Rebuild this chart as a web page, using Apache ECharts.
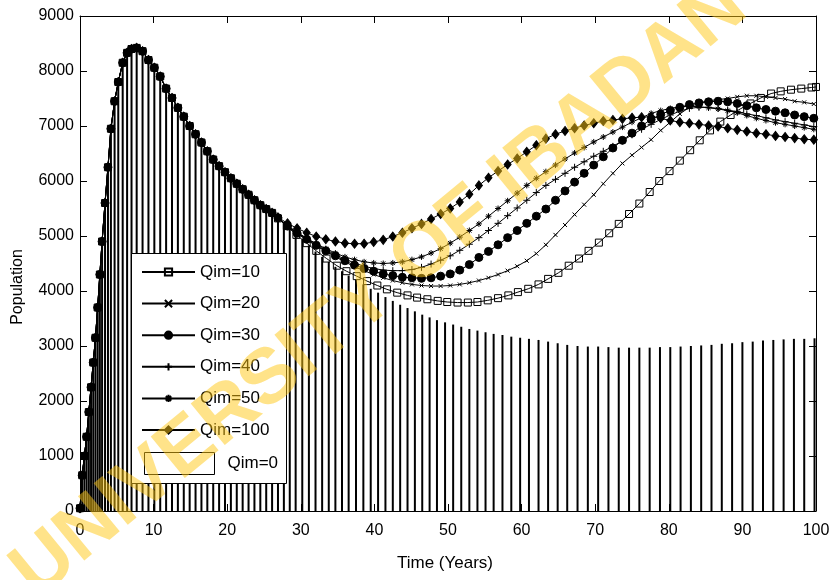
<!DOCTYPE html>
<html>
<head>
<meta charset="utf-8">
<script src="https://cdn.jsdelivr.net/npm/echarts@6/dist/echarts.min.js"></script>
<style>
  html, body { margin: 0; padding: 0; background: #fff; }
  #chart { width: 833px; height: 580px; }
</style>
</head>
<body>
<div id="chart"></div>
<script>
// shared early trajectory (all Qim runs coincide here)
const tEarly = [0, 0.3, 0.6, 0.9, 1.2, 1.5, 1.8, 2.1, 2.4, 2.7, 3.0, 3.4, 3.8, 4.2, 4.7, 5.2, 5.8, 6.4, 7.0, 7.7,
  8.5, 9.3, 10.1, 10.9, 11.7, 12.5, 13.3, 14.1, 14.9, 15.7, 16.5, 17.3, 18.1, 18.9, 19.7, 20.5, 21.3, 22.1,
  22.9, 23.7, 24.5, 25.3, 26.1];
const popEarly = [50, 650, 1000, 1350, 1800, 2250, 2700, 3150, 3700, 4300, 4900, 5600, 6250, 6950, 7450, 7800,
  8150, 8330, 8400, 8420, 8360, 8200, 8060, 7900, 7680, 7510, 7330, 7170, 7000, 6850, 6700, 6540, 6390, 6270,
  6160, 6050, 5950, 5850, 5750, 5650, 5560, 5490, 5420];

// Qim=0 (bars) after the shared part
const tBarLate = [26.9, 27.7, 28.5, 29.3, 30.2, 31.1, 32.0, 32.9, 33.8, 34.7, 35.6, 36.5, 37.5, 38.5, 39.5,
  40.5, 41.5, 42.5, 43.5, 44.5, 45.5, 46.5, 47.5, 48.5, 49.6, 50.7, 51.8, 52.9, 54.0, 55.1, 56.2, 57.4, 58.6,
  59.8, 61.0, 62.3, 63.6, 64.9, 66.2, 67.6, 69.0, 70.4, 71.8, 73.2, 74.6, 76.0, 77.4, 78.8, 80.2, 81.6, 83.0,
  84.4, 85.8, 87.2, 88.6, 90.0, 91.4, 92.8, 94.2, 95.6, 97.0, 98.4, 99.8];
const qim0Late = [5330, 5240, 5140, 5040, 4940, 4830, 4720, 4620, 4530, 4440, 4360, 4280, 4200, 4120, 4040,
  3970, 3890, 3820, 3750, 3690, 3630, 3570, 3520, 3470, 3430, 3390, 3350, 3310, 3280, 3250, 3220, 3200, 3170,
  3150, 3130, 3110, 3080, 3050, 3020, 3000, 2990, 2990, 2980, 2970, 2970, 2970, 2970, 2980, 2980, 2990, 3000,
  3010, 3020, 3040, 3050, 3070, 3080, 3100, 3110, 3120, 3130, 3130, 3140];

// Qim=10
const tQ10 = [26.9, 28.1, 29.4, 30.8, 32.1, 33.5, 34.9, 36.2, 37.6, 39.0, 40.4, 41.7, 43.1, 44.5, 45.8, 47.2,
  48.6, 49.9, 51.3, 52.7, 54.0, 55.4, 56.8, 58.2, 59.5, 60.9, 62.3, 63.6, 65.0, 66.4, 67.8, 69.1, 70.5, 71.9,
  73.2, 74.6, 76.0, 77.4, 78.7, 80.1, 81.5, 82.9, 84.2, 85.6, 87.0, 88.4, 89.7, 91.1, 92.5, 93.9, 95.2, 96.6,
  98.0, 99.4, 100];
const qim10 = [5320, 5180, 5020, 4870, 4730, 4590, 4460, 4360, 4270, 4180, 4100, 4030, 3970, 3920, 3880, 3850,
  3820, 3800, 3790, 3790, 3800, 3830, 3870, 3920, 3980, 4040, 4120, 4220, 4330, 4460, 4590, 4730, 4880, 5050,
  5220, 5400, 5590, 5800, 6000, 6180, 6370, 6560, 6740, 6920, 7080, 7200, 7310, 7410, 7510, 7590, 7630, 7660,
  7680, 7700, 7710];

// common time grid for the other branches
const tLate = [26.9, 28.2, 29.5, 30.8, 32.1, 33.4, 34.7, 36.0, 37.3, 38.6, 39.9, 41.2, 42.5, 43.8, 45.1, 46.4,
  47.7, 49.0, 50.3, 51.6, 52.9, 54.2, 55.5, 56.8, 58.1, 59.4, 60.7, 62.0, 63.3, 64.6, 65.9, 67.2, 68.5, 69.8,
  71.1, 72.4, 73.7, 75.0, 76.3, 77.6, 78.9, 80.2, 81.5, 82.8, 84.1, 85.4, 86.7, 88.0, 89.3, 90.6, 91.9, 93.2,
  94.5, 95.8, 97.1, 98.4, 99.7];
const qim20 = [5330, 5170, 5040, 4930, 4820, 4720, 4620, 4530, 4440, 4370, 4300, 4240, 4190, 4150, 4120, 4100,
  4090, 4090, 4100, 4120, 4150, 4190, 4240, 4300, 4370, 4450, 4550, 4680, 4840, 5020, 5200, 5390, 5570, 5750,
  5950, 6140, 6320, 6470, 6610, 6750, 6920, 7070, 7220, 7340, 7420, 7460, 7480, 7500, 7530, 7550, 7550, 7530,
  7510, 7490, 7450, 7430, 7400];
const qim30 = [5330, 5180, 5050, 4940, 4830, 4730, 4640, 4550, 4470, 4410, 4360, 4310, 4280, 4250, 4240, 4230,
  4240, 4270, 4310, 4380, 4480, 4610, 4720, 4840, 4970, 5100, 5230, 5360, 5490, 5650, 5820, 5980, 6140, 6290,
  6440, 6600, 6740, 6870, 7000, 7120, 7210, 7280, 7340, 7390, 7420, 7440, 7450, 7440, 7410, 7370, 7330, 7300,
  7270, 7240, 7200, 7170, 7140];
const qim40 = [5330, 5180, 5060, 4950, 4850, 4750, 4660, 4580, 4510, 4450, 4410, 4380, 4370, 4370, 4390, 4430,
  4490, 4560, 4640, 4740, 4850, 4970, 5100, 5230, 5370, 5510, 5650, 5790, 5920, 6030, 6140, 6250, 6350, 6450,
  6540, 6630, 6730, 6840, 6940, 7030, 7120, 7200, 7270, 7320, 7340, 7340, 7320, 7290, 7260, 7220, 7190, 7150,
  7110, 7080, 7050, 7020, 6990];
const qim50 = [5330, 5190, 5070, 4960, 4860, 4770, 4690, 4620, 4570, 4530, 4510, 4500, 4510, 4530, 4570, 4620,
  4690, 4770, 4870, 4980, 5100, 5220, 5360, 5500, 5640, 5780, 5920, 6050, 6170, 6290, 6400, 6510, 6610, 6710,
  6800, 6890, 6980, 7070, 7150, 7230, 7280, 7320, 7350, 7360, 7350, 7330, 7310, 7280, 7240, 7190, 7140, 7100,
  7060, 7030, 7000, 6970, 6940];
const qim100 = [5340, 5230, 5140, 5060, 4990, 4940, 4900, 4870, 4860, 4860, 4890, 4930, 4990, 5060, 5140, 5220,
  5310, 5400, 5500, 5620, 5760, 5920, 6060, 6180, 6300, 6410, 6530, 6650, 6770, 6850, 6910, 6960, 7010, 7050,
  7090, 7110, 7130, 7150, 7160, 7170, 7140, 7100, 7070, 7050, 7030, 7010, 6990, 6960, 6930, 6900, 6870, 6850,
  6820, 6800, 6780, 6760, 6750];

const xTicks = { min: 0, max: 100, step: 10 };
const yTicks = { min: 0, max: 9000, step: 1000 };

const font = 'Liberation Sans';
const pairs = (ts, vs) => ts.map((t, i) => [t, vs[i]]);
const early = pairs(tEarly, popEarly);

// marker shapes (MATLAB-like)
const markX = 'path://M0,0L10,10M10,0L0,10';
const markPlus = 'path://M5,0L5,10M0,5L10,5';
const markStar = 'path://M5,0L5,10M0,5L10,5M1.5,1.5L8.5,8.5M8.5,1.5L1.5,8.5';

function lineSeries(name, data, symbol, size, fill) {
  return {
    name: name,
    type: 'line',
    data: early.concat(data),
    symbol: symbol,
    symbolSize: size,
    showAllSymbol: true,
    lineStyle: { color: '#000', width: 1 },
    itemStyle: { color: fill, borderColor: '#000', borderWidth: 1 },
    emphasis: { disabled: true },
    z: 3
  };
}

const chart = echarts.init(document.getElementById('chart'), null, { renderer: 'canvas' });

const axisBase = {
  type: 'value',
  splitLine: { show: false },
  axisLine: { show: true, onZero: false, lineStyle: { color: '#000', width: 1 } },
  axisTick: { show: true, inside: true, length: 7, lineStyle: { color: '#000', width: 1 } }
};

const option = {
  animation: false,
  backgroundColor: '#fff',
  grid: { left: 80, right: 17, top: 16, bottom: 69, containLabel: false, outerBoundsMode: 'none' },
  xAxis: [
    Object.assign({}, axisBase, {
      position: 'bottom', min: xTicks.min, max: xTicks.max, interval: xTicks.step,
      axisLabel: { fontSize: 16, color: '#000', fontFamily: font, margin: 12 }
    }),
    Object.assign({}, axisBase, {
      position: 'top', min: xTicks.min, max: xTicks.max, interval: xTicks.step,
      axisLabel: { show: false }
    })
  ],
  yAxis: [
    Object.assign({}, axisBase, {
      position: 'left', min: yTicks.min, max: yTicks.max, interval: yTicks.step,
      axisLabel: { fontSize: 16, color: '#000', fontFamily: font, margin: 6, formatter: v => String(v) }
    }),
    Object.assign({}, axisBase, {
      position: 'right', min: yTicks.min, max: yTicks.max, interval: yTicks.step,
      axisLabel: { show: false }
    })
  ],
  legend: [
    {
      orient: 'vertical', left: 141, top: 262, padding: 0,
      itemWidth: 53, itemHeight: 9, itemGap: 11.6,
      selectedMode: false,
      data: ['Qim=10', 'Qim=20', 'Qim=30', 'Qim=40', 'Qim=50', 'Qim=100'],
      textStyle: { fontSize: 17, fontFamily: font, color: '#000', lineHeight: 20 }
    },
    {
      orient: 'vertical', left: 144, top: 452, padding: 0,
      itemWidth: 70, itemHeight: 22, icon: 'rect',
      selectedMode: false,
      data: [{ name: 'Qim=0', itemStyle: { color: '#fff', borderColor: '#000', borderWidth: 1 } }],
      textStyle: { fontSize: 17, fontFamily: font, color: '#000', padding: [0, 0, 0, 8] }
    }
  ],
  graphic: [
    // legend box
    {
      type: 'rect', z: 3,
      shape: { x: 131.5, y: 253.5, width: 155, height: 230 },
      style: { fill: '#fff', stroke: '#000', lineWidth: 1 }
    },
    {
      type: 'text', x: 18, y: 287, rotation: Math.PI / 2,
      style: { text: 'Population', font: '16px "Liberation Sans"', fill: '#000', textAlign: 'center', textVerticalAlign: 'middle' }
    },
    {
      type: 'text', x: 445, y: 563,
      style: { text: 'Time (Years)', font: '17px "Liberation Sans"', fill: '#000', textAlign: 'center', textVerticalAlign: 'middle' }
    },
    // watermark
    {
      type: 'text', z: 100, x: 23, y: 583, rotation: 39.4 * Math.PI / 180, silent: true,
      style: {
        text: 'UNIVERSITY OF IBADAN LIBRARY', font: 'bold 78px "Liberation Sans"',
        fill: 'rgba(255,200,20,0.5)', textAlign: 'left', textVerticalAlign: 'middle'
      }
    }
  ],
  series: [
    {
      name: 'Qim=0',
      type: 'bar',
      data: early.concat(pairs(tBarLate, qim0Late)),
      barWidth: 2,
      itemStyle: { color: '#000' },
      emphasis: { disabled: true },
      z: 2
    },
    lineSeries('Qim=10', pairs(tQ10, qim10), 'rect', 7, 'rgba(0,0,0,0)'),
    lineSeries('Qim=20', pairs(tLate, qim20), markX, 4, '#000'),
    lineSeries('Qim=30', pairs(tLate, qim30), 'circle', 8, '#000'),
    lineSeries('Qim=40', pairs(tLate, qim40), markPlus, 7, '#000'),
    lineSeries('Qim=50', pairs(tLate, qim50), markStar, 6, '#000'),
    lineSeries('Qim=100', pairs(tLate, qim100), 'diamond', [7, 9], '#000')
  ]
};

chart.setOption(option);
</script>
</body>
</html>
